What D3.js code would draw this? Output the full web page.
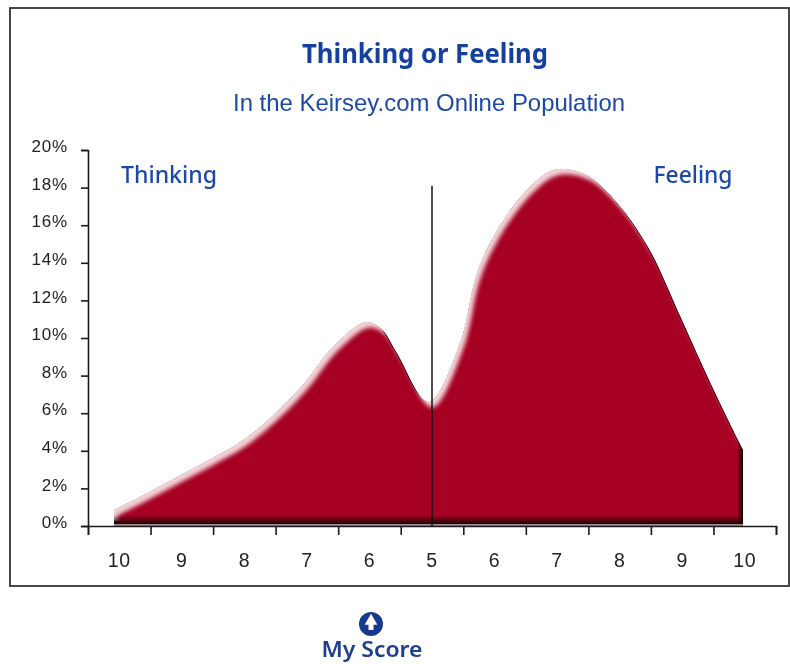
<!DOCTYPE html>
<html>
<head>
<meta charset="utf-8">
<script src="https://cdn.jsdelivr.net/npm/d3@7"></script>
<style>
html, body { margin: 0; padding: 0; background: #fff; }
svg { display: block; }
</style>
</head>
<body>
<script>
// Global consts
var w = 790;
var h = 664;
var scoreLabels = ['10', '9', '8', '7', '6', '5', '6', '7', '8', '9', '10'];
var yTicks = [0, 2, 4, 6, 8, 10, 12, 14, 16, 18, 20];
// positions along the score scale
var stepIndex = [0, 0.5, 1, 1.5, 2, 2.5, 3, 3.5, 4, 4.25, 4.5, 5, 5.5, 5.75, 6, 6.5, 7, 7.5, 8, 8.5, 9, 9.5, 10];
var percent = [0.85, 1.7, 2.6, 3.5, 4.45, 5.8, 7.5, 9.6, 10.85, 10.5, 9.2, 6.6, 9.75, 13.25, 15.2, 17.65, 18.95, 18.7, 17.2, 14.8, 11.2, 7.5, 4.05];
var myScoreStep = 5;
var myScorePercent = 18.1;
var blue = '#1f4aa8';
var red = '#a60620';
var rim = '#1c0106';

var svg = d3.select('body').append('svg')
    .attr('width', w)
    .attr('height', h);

var defs = svg.append('defs');
defs.append('filter').attr('id', 'soft').append('feGaussianBlur').attr('stdDeviation', 2);
defs.append('filter').attr('id', 'edge').append('feGaussianBlur').attr('stdDeviation', 0.6);
defs.append('filter').attr('id', 'textsoft').append('feGaussianBlur').attr('stdDeviation', 0.4);

function addGradient(id, x2, y2) {
    var g = defs.append('linearGradient').attr('id', id)
        .attr('x1', 0).attr('y1', 0).attr('x2', x2).attr('y2', y2);
    g.append('stop').attr('offset', 0).attr('stop-color', rim).attr('stop-opacity', 0);
    g.append('stop').attr('offset', 1).attr('stop-color', rim).attr('stop-opacity', 1);
}
addGradient('fadeDown', 0, 1);
addGradient('fadeRight', 1, 0);

// frame
svg.append('rect')
    .attr('x', 10).attr('y', 8)
    .attr('width', 779).attr('height', 578)
    .attr('fill', '#fff')
    .attr('stroke', '#333')
    .attr('stroke-width', 1.8);

// scales
var y = d3.scaleLinear().domain([0, 20]).range([526, 150]);
var xArea = d3.scaleLinear().domain([0, 10]).range([114, 743]);
var xBand = d3.scaleBand().domain(d3.range(scoreLabels.length)).range([88, 776]);
var xEdges = d3.scaleLinear().domain([0, scoreLabels.length]).range([88, 776]);

var rows = stepIndex.map(function (d, i) {
    return { step: d, value: percent[i] };
});
var area = d3.area()
    .x(function (d) { return xArea(d.step); })
    .y0(y(0.1))
    .y1(function (d) { return y(d.value); })
    .curve(d3.curveCatmullRom.alpha(0.5));

// bevelled area: thin dark rim on falling edges, pale fringe on rising edges
defs.append('clipPath').attr('id', 'areaClip')
    .append('path').attr('d', area(rows));
defs.append('clipPath').attr('id', 'innerClip')
    .append('path').attr('d', area(rows)).attr('transform', 'translate(-1.2,-1.2)');

var bevel = svg.append('g').attr('filter', 'url(#edge)')
    .append('g').attr('clip-path', 'url(#areaClip)');
bevel.append('path').attr('d', area(rows)).attr('fill', rim);
bevel.append('path').attr('d', area(rows)).attr('fill', '#f3d3d9')
    .attr('transform', 'translate(-3,-3)');
bevel.append('g').attr('clip-path', 'url(#innerClip)')
    .append('g').attr('filter', 'url(#soft)')
    .append('path').attr('d', area(rows)).attr('fill', red)
    .attr('transform', 'translate(3.5,5.5)');
// dark band along the bottom and down the right end
bevel.append('rect')
    .attr('x', xArea(0)).attr('width', xArea(10) - xArea(0))
    .attr('y', y(0.1) - 9).attr('height', 9)
    .attr('fill', 'url(#fadeDown)');
bevel.append('rect')
    .attr('x', xArea(10) - 6).attr('width', 6)
    .attr('y', y(5)).attr('height', y(0) - y(5))
    .attr('fill', 'url(#fadeRight)');

// pale strip under the area
svg.append('rect')
    .attr('x', xArea(0)).attr('width', xArea(10) - xArea(0))
    .attr('y', y(0.1)).attr('height', y(0) - y(0.1))
    .attr('fill', '#9a7a80');

// axes
var yAxis = d3.axisLeft(y).tickValues(yTicks)
    .tickSize(7).tickFormat(function (d) { return d + '%'; });
var xAxis = d3.axisBottom(xEdges).tickValues(d3.range(scoreLabels.length + 1))
    .tickSize(9).tickFormat('');

var gy = svg.append('g').attr('transform', 'translate(88,0)').call(yAxis);
var gx = svg.append('g').attr('transform', 'translate(0,526)').call(xAxis);
svg.selectAll('.domain, .tick line')
    .attr('stroke', '#1a1a1a')
    .attr('stroke-width', 1.6);
gy.selectAll('text')
    .attr('x', -20)
    .attr('dy', '0.1em')
    .attr('fill', '#222')
    .style('font', '17px "Liberation Sans"')
    .style('letter-spacing', '0.8px')
    .attr('filter', 'url(#textsoft)');

// score labels
svg.append('g').selectAll('text')
    .data(scoreLabels)
    .enter().append('text')
    .attr('x', function (d, i) { return xBand(i) + xBand.bandwidth() / 2; })
    .attr('y', 567)
    .attr('text-anchor', 'middle')
    .attr('fill', '#222')
    .style('font', '19.5px "Liberation Sans"')
    .style('letter-spacing', '0.6px')
    .attr('filter', 'url(#textsoft)')
    .text(function (d) { return d; });

// my score marker
svg.append('line')
    .attr('x1', xBand(myScoreStep) + xBand.bandwidth() / 2)
    .attr('x2', xBand(myScoreStep) + xBand.bandwidth() / 2)
    .attr('y1', y(myScorePercent))
    .attr('y2', y(0))
    .attr('stroke', '#111')
    .attr('stroke-width', 1.5);

function addText(str, x, yPos, font, color) {
    return svg.append('text')
        .attr('x', x)
        .attr('y', yPos)
        .attr('text-anchor', 'middle')
        .attr('fill', color)
        .style('font', font)
        .attr('filter', 'url(#textsoft)')
        .text(str);
}

addText('Thinking or Feeling', 425, 63, 'bold 27px "Noto Sans"', '#173f9f')
    .attr('textLength', 246).attr('lengthAdjust', 'spacingAndGlyphs');
addText('In the Keirsey.com Online Population', 429, 111, '24px "Liberation Sans"', blue)
    .attr('textLength', 392).attr('lengthAdjust', 'spacingAndGlyphs');
addText('Thinking', 169, 183, '500 24px "Noto Sans"', blue)
    .attr('textLength', 96).attr('lengthAdjust', 'spacingAndGlyphs');
addText('Feeling', 693, 183, '500 24px "Noto Sans"', blue)
    .attr('textLength', 79).attr('lengthAdjust', 'spacingAndGlyphs');

// my score icon
var icon = svg.append('g').attr('transform', 'translate(371,624)');
icon.append('circle').attr('r', 12).attr('fill', '#17398f');
icon.append('path')
    .attr('d', d3.symbol().type(d3.symbolTriangle).size(70))
    .attr('transform', 'translate(0,-3)')
    .attr('fill', '#fff');
icon.append('rect')
    .attr('x', -2.5).attr('y', -1).attr('width', 5).attr('height', 7)
    .attr('fill', '#fff');
addText('My Score', 372, 657, '600 21px "Noto Sans"', '#1d3f8f')
    .attr('textLength', 101).attr('lengthAdjust', 'spacingAndGlyphs');
</script>
</body>
</html>
